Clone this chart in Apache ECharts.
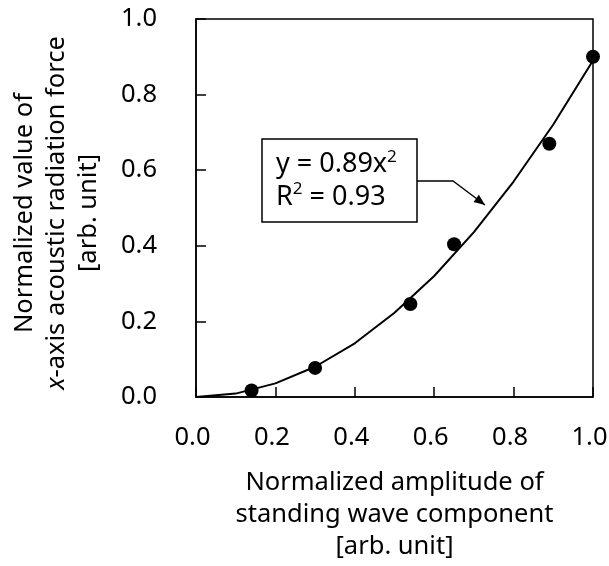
<!DOCTYPE html>
<html>
<head>
<meta charset="utf-8">
<script src="https://cdn.jsdelivr.net/npm/echarts@6/dist/echarts.min.js"></script>
<style>
  html, body { margin: 0; padding: 0; background: #fff; }
  #chart { width: 609px; height: 566px; }
</style>
</head>
<body>
<div id="chart"></div>
<script>
// measured points
var ampX = [0.14, 0.30, 0.54, 0.65, 0.89, 1.00];
var forceY = [0.017, 0.077, 0.246, 0.404, 0.670, 0.900];

// trendline y = 0.89x^2, read at 0.1 steps
var fitX = [0, 0.1, 0.2, 0.3, 0.4, 0.5, 0.6, 0.7, 0.8, 0.9, 1.0];
var fitY = [0, 0.009, 0.036, 0.080, 0.142, 0.223, 0.320, 0.436, 0.570, 0.721, 0.890];

var ticks = [0.0, 0.2, 0.4, 0.6, 0.8, 1.0];

var FONT = '"Noto Sans", "Open Sans", sans-serif';

var chart = echarts.init(document.getElementById('chart'), null, { renderer: 'canvas' });

function pairs(xs, ys) {
  return xs.map(function (x, i) { return [x, ys[i]]; });
}

function tickLabel(v) {
  return ticks.indexOf(Math.round(v * 10) / 10) >= 0 ? v.toFixed(1) : '';
}

// arrow from the label box to the curve
var arrowPts = [[417, 181], [453, 181], [485, 205]];
var tip = arrowPts[2], prev = arrowPts[1];
var ang = Math.atan2(tip[1] - prev[1], tip[0] - prev[0]);
var headLen = 11, headW = 4.5;
var bx = tip[0] - headLen * Math.cos(ang), by = tip[1] - headLen * Math.sin(ang);
var head = [
  tip,
  [bx + headW * Math.sin(ang), by - headW * Math.cos(ang)],
  [bx - headW * Math.sin(ang), by + headW * Math.cos(ang)]
];

chart.setOption({
  animation: false,
  backgroundColor: '#fff',
  grid: {
    left: 196, right: 16, top: 19, bottom: 169,
    show: true, borderColor: '#000', borderWidth: 1.5,
    outerBoundsMode: 'none'
  },
  xAxis: {
    type: 'value', min: 0, max: 1, interval: 0.2,
    splitLine: { show: false },
    axisLine: { show: true, lineStyle: { color: '#000', width: 1.5 } },
    axisTick: { show: true, inside: true, length: 10, lineStyle: { color: '#000', width: 1.5 } },
    axisLabel: {
      formatter: tickLabel, color: '#000', fontSize: 25.5, fontFamily: FONT,
      margin: 28, padding: [0, 7, 0, 0]
    },
    name: 'Normalized amplitude of\nstanding wave component\n[arb. unit]',
    nameLocation: 'middle', nameGap: 70,
    nameTextStyle: { color: '#000', fontSize: 25.5, fontFamily: FONT, lineHeight: 31.7, verticalAlign: 'top' }
  },
  yAxis: {
    type: 'value', min: 0, max: 1, interval: 0.2,
    splitLine: { show: false },
    axisLine: { show: true, lineStyle: { color: '#000', width: 1.5 } },
    axisTick: { show: true, inside: true, length: 10, lineStyle: { color: '#000', width: 1.5 } },
    axisLabel: { formatter: tickLabel, color: '#000', fontSize: 25.5, fontFamily: FONT, margin: 39 },
    name: '{a|Normalized value of}\n{i|x}{a|-axis acoustic radiation force}\n{a|[arb. unit]}',
    nameLocation: 'middle', nameGap: 91,
    nameTextStyle: {
      color: '#000', fontFamily: FONT, padding: [0, 10, 0, 0],
      rich: {
        a: { fontSize: 25.5, lineHeight: 32, fontFamily: FONT, color: '#000' },
        i: { fontSize: 25.5, lineHeight: 32, fontFamily: FONT, fontStyle: 'italic', color: '#000' }
      }
    }
  },
  series: [
    {
      type: 'line', data: pairs(fitX, fitY),
      showSymbol: false, smooth: false,
      lineStyle: { color: '#000', width: 2 },
      z: 2
    },
    {
      type: 'scatter', data: pairs(ampX, forceY),
      symbol: 'circle', symbolSize: 14,
      itemStyle: { color: '#000', opacity: 1 },
      z: 3
    }
  ],
  graphic: [
    {
      type: 'rect', shape: { x: 262, y: 139, width: 155, height: 83 },
      style: { fill: '#fff', stroke: '#000', lineWidth: 1.5 }, z: 10
    },
    {
      type: 'text', x: 276, y: 181, z: 11,
      style: {
        text: '{n|y = 0.89x}{s|2}\n{n|R}{s|2}{n| = 0.93}',
        verticalAlign: 'middle', align: 'left',
        rich: {
          n: { fontSize: 27, lineHeight: 32.5, fontFamily: FONT, fill: '#000' },
          s: { fontSize: 17, fontFamily: FONT, fill: '#000', verticalAlign: 'top' }
        }
      }
    },
    {
      type: 'polyline', z: 10, shape: { points: arrowPts },
      style: { stroke: '#000', lineWidth: 1.3, fill: null }
    },
    {
      type: 'polygon', z: 10, shape: { points: head },
      style: { fill: '#000' }
    }
  ]
});
</script>
</body>
</html>
